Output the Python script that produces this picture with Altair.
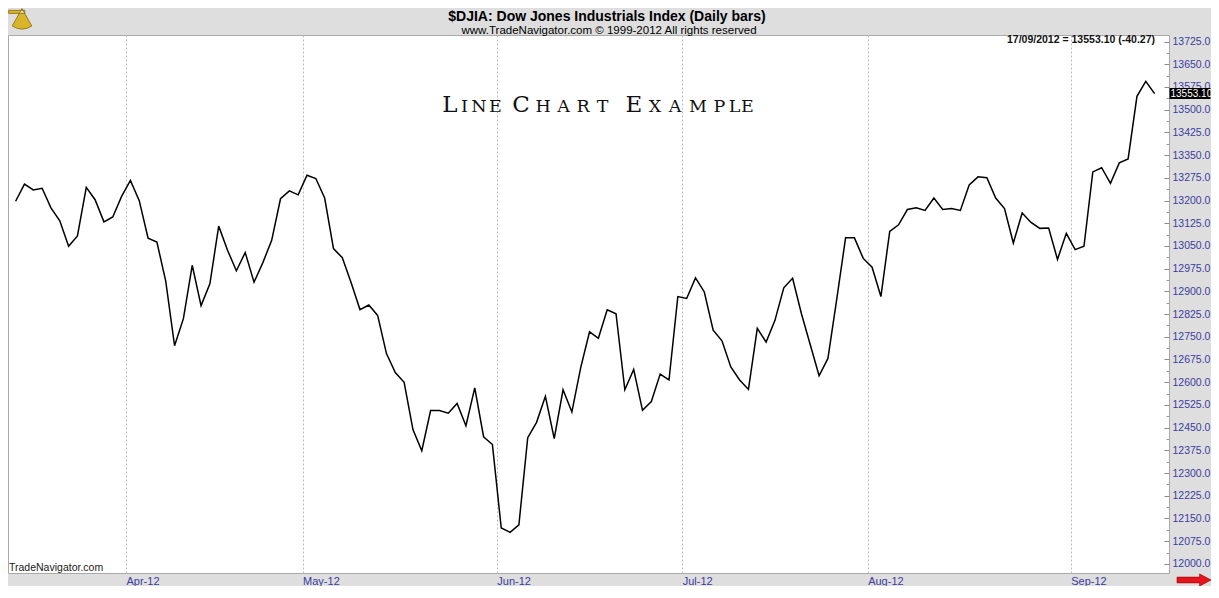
import altair as alt
import pandas as pd

# ---------------- data ----------------
closes = [
    13197.5, 13254.3, 13235.0, 13240.4, 13175.8, 13132.9, 13048.9, 13083.1, 13243.7, 13202.6,
    13129.6, 13145.8, 13213.6, 13266.3, 13199.4, 13075.7, 13062.8, 12933.6, 12720.3, 12809.8,
    12986.2, 12852.8, 12924.8, 13115.4, 13036.0, 12968.1, 13028.2, 12930.3, 12994.9, 13068.3,
    13205.9, 13231.7, 13218.8, 13283.4, 13272.7, 13208.1, 13041.1, 13011.1, 12928.1, 12839.9,
    12855.0, 12820.5, 12694.5, 12632.1, 12599.8, 12443.5, 12373.7, 12506.2, 12506.2, 12497.4,
    12529.8, 12456.4, 12581.4, 12419.9, 12394.1, 12118.5, 12104.3, 12129.2, 12416.7, 12467.4,
    12553.3, 12413.5, 12575.0, 12501.7, 12648.3, 12766.5, 12745.2, 12838.9, 12826.0, 12575.0,
    12641.8, 12507.0, 12536.0, 12626.7, 12607.3, 12882.8, 12876.4, 12944.2, 12898.0, 12772.0,
    12736.5, 12650.2, 12607.3, 12576.0, 12777.5, 12732.3, 12804.3, 12911.9, 12943.2, 12826.0,
    12723.6, 12621.2, 12678.4, 12874.4, 13076.7, 13076.7, 13008.8, 12979.8, 12882.8, 13098.3,
    13119.9, 13170.3, 13175.8, 13167.1, 13208.1, 13170.3, 13173.6, 13167.1, 13251.1, 13278.2,
    13275.0, 13208.1, 13173.6, 13059.5, 13158.7, 13127.4, 13108.0, 13109.0, 13005.6, 13091.8,
    13037.9, 13048.9, 13294.4, 13308.3, 13256.6, 13324.4, 13337.4, 13544.1, 13593.5, 13553.1,
]
first_day = "2012-03-14"
last_day = "2012-09-17"
market_holidays = ["2012-04-06", "2012-05-28", "2012-07-04", "2012-09-03"]

title_text = "$DJIA:  Dow Jones Industrials Index  (Daily bars)"
subtitle_text = "www.TradeNavigator.com \u00a9 1999-2012 All rights reserved"
last_text = "17/09/2012 = 13553.10 (-40.27)"
last_box_text = "13553.10"
footer_text = "TradeNavigator.com"
headline = "LINE CHART EXAMPLE"  # drawn in small capitals: "Line Chart Example"

# ---------------- derived tables ----------------
dates = [d for d in pd.bdate_range(first_day, last_day)
         if d.strftime("%Y-%m-%d") not in market_holidays]
assert len(dates) == len(closes)
df = pd.DataFrame({"i": list(range(len(closes))),
                   "date": [d.strftime("%Y-%m-%d") for d in dates],
                   "close": closes})

month_ticks, month_labels = [], []
for k in range(1, len(dates)):
    if dates[k].month != dates[k - 1].month:
        month_ticks.append(k - 0.5)
        month_labels.append(dates[k].strftime("%b-%y"))
x_label_expr = " ".join(f"datum.value == {t} ? '{l}' :" for t, l in zip(month_ticks, month_labels)) + " ''"

major_ticks = [12000 + 75 * k for k in range(24)]
minor_ticks = [12037.5 + 75 * k for k in range(23)]

W, H = 1161, 538
X_DOM = [-0.865, 130.63]
Y_DOM = [11969.9, 13746.6]
AXIS_BLUE = "#3c3c9e"
SANS = "Liberation Sans"

xs = alt.Scale(domain=X_DOM, nice=False, zero=False)
ys = alt.Scale(domain=Y_DOM, nice=False, zero=False)

x_enc = alt.X("i:Q", scale=xs, title=None,
              axis=alt.Axis(values=month_ticks, labelExpr=x_label_expr, grid=True,
                            gridColor="#bcbcbc", gridDash=[2, 2], gridWidth=1,
                            ticks=False, domain=False, labelAlign="left", labelBaseline="top",
                            labelPadding=2, labelFlush=False, labelOverlap=False,
                            labelColor=AXIS_BLUE, labelFont=SANS, labelFontSize=11))

line = alt.Chart(df).mark_line(color="#000000", strokeWidth=1.5).encode(
    x=x_enc,
    y=alt.Y("close:Q", scale=ys, title=None,
            axis=alt.Axis(orient="right", values=major_ticks, format=".1f",
                          grid=False, domain=False, offset=-5, tickSize=5,
                          tickColor="#8a8a8a", tickWidth=1, labelPadding=3,
                          labelAlign="left", labelBaseline="middle", labelOverlap=False,
                          labelFlush=False, labelColor=AXIS_BLUE, labelFont=SANS,
                          labelFontSize=10.5)),
)

minor = alt.Chart(df).mark_line(opacity=0).encode(
    x=x_enc,
    y=alt.Y("close:Q", scale=ys, title=None,
            axis=alt.Axis(orient="right", values=minor_ticks, labels=False,
                          grid=False, domain=False, offset=-3, tickSize=3,
                          tickColor="#9a9a9a", tickWidth=1)),
)

# headline in small capitals, one glyph per entry (page centre x, size)
letters = list(headline.replace(" ", ""))
letter_px = [450, 464.5, 479, 495.5, 521, 543, 563.5, 583, 602.5,
             634, 655, 675, 698, 719.5, 734.5, 747.5]
BIG, SMALL = 23, 17.5
letter_fs = [BIG, SMALL, SMALL, SMALL, BIG, SMALL, SMALL, SMALL, SMALL,
             BIG, SMALL, SMALL, SMALL, SMALL, SMALL, SMALL]
ldf = pd.DataFrame({"ch": letters, "px": [p - 8 for p in letter_px], "fs": letter_fs})
head = alt.Chart(ldf).mark_text(font="DejaVu Serif", baseline="alphabetic",
                                align="center", color="#111111").encode(
    x=alt.X("px:Q", scale=None, axis=None),
    y=alt.value(77),
    text="ch:N",
    size=alt.Size("fs:Q", scale=None, legend=None),
)

one = pd.DataFrame({"a": [0]})
title_mark = alt.Chart(one).mark_text(text=title_text, font=SANS, fontWeight="bold",
                                      fontSize=14, align="center", baseline="alphabetic",
                                      color="#000000").encode(x=alt.value(599), y=alt.value(-14))
subtitle_mark = alt.Chart(one).mark_text(text=subtitle_text, font=SANS, fontSize=11.5,
                                         align="center", baseline="alphabetic",
                                         color="#000000").encode(x=alt.value(601), y=alt.value(-1))
last_mark = alt.Chart(one).mark_text(text=last_text, font=SANS, fontWeight="bold",
                                     fontSize=10.5, align="right", baseline="middle",
                                     color="#111111").encode(x=alt.value(1147), y=alt.value(5))
footer_mark = alt.Chart(one).mark_text(text=footer_text, font=SANS, fontSize=10.5,
                                       align="left", baseline="middle",
                                       color="#1a1a1a").encode(x=alt.value(1), y=alt.value(533))

# small gold sextant emblem in the header
sextant_path = ("M 0 -0.75 L -0.7 0.5 Q 0 0.95 0.7 0.5 Z "
                "M -0.95 -0.62 L 0.2 -0.62 L 0.2 -0.4 L -0.95 -0.4 Z")
emblem = alt.Chart(one).mark_point(shape=sextant_path, size=784, filled=True, fill="#d8b428",
                                   stroke="#8c6a00", strokeWidth=0.8, opacity=1).encode(
    x=alt.value(14), y=alt.value(-16))

arrow_path = "M -1 -0.17 L 0.33 -0.17 L 0.33 -0.36 L 1 0 L 0.33 0.36 L 0.33 0.17 L -1 0.17 Z"
arrow = alt.Chart(one).mark_point(shape=arrow_path, size=1156, filled=True, fill="#e8141c",
                                  stroke="#8a0000", strokeWidth=0.6, opacity=1).encode(
    x=alt.value(1186), y=alt.value(545))

half_box = 18.1
last_df = pd.DataFrame({"close": [closes[-1]], "top": [closes[-1] + half_box],
                        "bot": [closes[-1] - half_box]})
box = alt.Chart(last_df).mark_rect(color="#000000").encode(
    x=alt.value(W + 0.5), x2=alt.value(W + 41.5),
    y=alt.Y("top:Q", scale=ys, axis=None), y2="bot:Q")
box_text = alt.Chart(last_df).mark_text(text=last_box_text, font=SANS, fontSize=10,
                                        align="left", baseline="middle", color="#ffffff").encode(
    x=alt.value(W + 1.5), y=alt.Y("close:Q", scale=ys, axis=None))

chart = alt.layer(line, minor, head, title_mark, subtitle_mark, last_mark, footer_mark,
                  emblem, box, box_text, arrow).resolve_axis(y="independent").properties(
    width=W, height=H, background="#dedede",
    padding={"left": 0, "top": 27, "right": 42, "bottom": 13},
    autosize=alt.AutoSizeParams(type="none"),
).configure_view(fill="#ffffff", stroke="#a9a9a9", strokeWidth=1)

chart.save("out.html", embed_options={"renderer": "svg", "actions": False})
